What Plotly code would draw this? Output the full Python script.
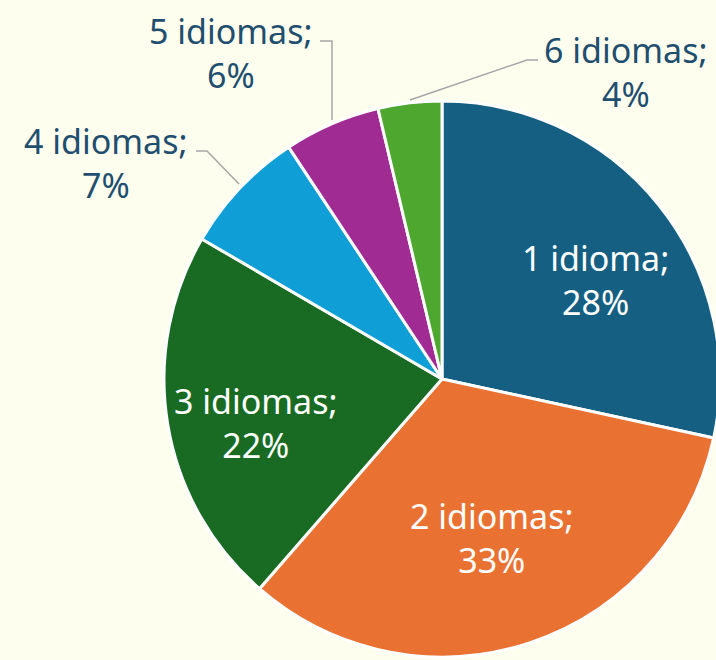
import plotly.graph_objects as go

# data
categorias = ["1 idioma", "2 idiomas", "3 idiomas", "4 idiomas", "5 idiomas", "6 idiomas"]
valores = [28.4, 33.0, 22.0, 7.3, 5.6, 3.7]
porcentajes = ["28%", "33%", "22%", "7%", "6%", "4%"]

colores = ["#156082", "#E97132", "#196B24", "#0F9ED5", "#A02B93", "#4EA72E"]
fondo = "#FDFEEE"
azul_texto = "#1F4E6E"

# figure is a bit wider than the 716px window so the pie gets cut on the right
W, H = 730, 660


def px(x, y):
    """screen pixel -> paper coords"""
    return x / W, 1 - y / H


# pie center / radius in screen pixels
cx, cy, r = 442, 379, 278
x0, y0 = px(cx - r, cy + r)
x1, y1 = px(cx + r, cy - r)

fig = go.Figure()
fig.add_trace(go.Pie(
    labels=categorias,
    values=valores,
    sort=False,
    direction="clockwise",
    rotation=0,
    marker=dict(colors=colores, line=dict(color="white", width=3)),
    textinfo="none",
    hoverinfo="skip",
    showlegend=False,
    domain=dict(x=[max(x0, 0), min(x1, 1)], y=[max(y0, 0), min(y1, 1)]),
))

# label block centers (screen px)
pos_etiquetas = [
    (595, 280),
    (492, 538),
    (256, 423),
    (106, 163),
    (231, 53),
    (626, 72),
]

for i, (cat, pct) in enumerate(zip(categorias, porcentajes)):
    color = "white" if i < 3 else azul_texto
    ax, ay = px(*pos_etiquetas[i])
    fig.add_annotation(
        x=ax, y=ay, xref="paper", yref="paper",
        text=f"{cat};<br>{pct}", showarrow=False,
        xanchor="center", yanchor="middle", align="center",
        font=dict(family="Noto Sans", size=34, color=color),
    )

# leader lines for the small slices
lideres = [
    [(196, 151), (207, 151), (239, 184)],
    [(320, 41), (332, 41), (332, 120)],
    [(538, 60), (527, 60), (410, 100)],
]
for pts in lideres:
    path = ""
    for k, (sx, sy) in enumerate(pts):
        ax, ay = px(sx, sy)
        path += ("M" if k == 0 else " L") + f"{ax},{ay}"
    fig.add_shape(type="path", path=path, xref="paper", yref="paper",
                  line=dict(color="#A6A6A6", width=1.5))

fig.update_layout(
    width=W, height=H,
    margin=dict(l=0, r=0, t=0, b=0),
    paper_bgcolor=fondo,
    plot_bgcolor=fondo,
)

fig.write_html(
    "out.html",
    config={"displayModeBar": False},
    post_script="document.body.style.margin='0';"
                "document.body.style.overflow='hidden';"
                "document.body.style.background='" + fondo + "';",
)
